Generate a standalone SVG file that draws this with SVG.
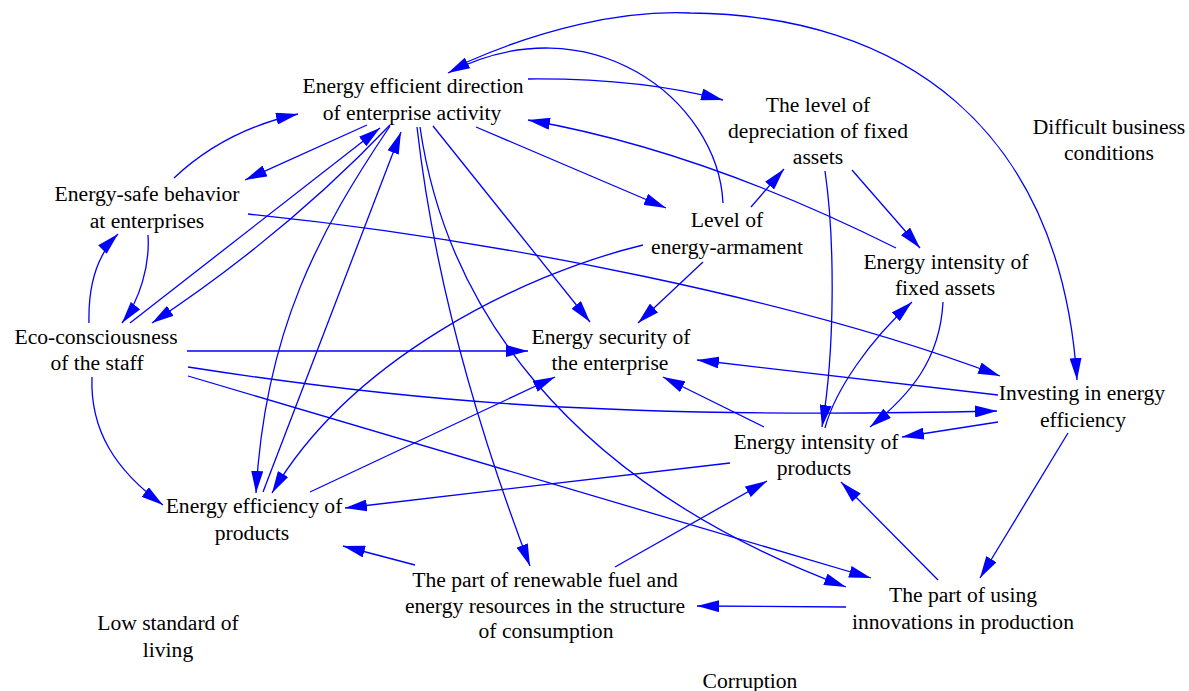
<svg xmlns="http://www.w3.org/2000/svg" width="1189" height="691" viewBox="0 0 1189 691">
<style>
text{font-family:"Liberation Serif","Times New Roman",serif;font-size:21.6px;fill:#000;text-anchor:middle}
.e path{fill:none;stroke:#0000ff;stroke-width:1.3;marker-end:url(#ah)}
</style>
<defs>
<marker id="ah" markerUnits="userSpaceOnUse" markerWidth="22" markerHeight="12" refX="22" refY="6" orient="auto" viewBox="0 0 22 12">
<path d="M0,0 L22,6 L0,12 z" fill="#0000ff"/>
</marker>
</defs>
<rect width="1189" height="691" fill="#fff"/>
<g class="e" id="connectors">
<path d="M528,79 Q640,78 723,100"/>
<path d="M723,203 C718,100 590,0 448,73"/>
<path d="M476,127 L666,208"/>
<path d="M751,207 L784,169"/>
<path d="M896,248 Q700,150 528,120"/>
<path d="M852,170 L920,248"/>
<path d="M825,171 C835,240 835,350 822,427"/>
<path d="M825,428 C835,390 870,340 912,302"/>
<path d="M943,302 C940,360 910,395 870,427"/>
<path d="M467,62 C540,30 620,10 690,13 C900,15 1060,125 1077,380"/>
<path d="M998,395 L697,360"/>
<path d="M188,367 C400,400 600,420 997,411"/>
<path d="M998,422 L902,437"/>
<path d="M1068,433 L980,578"/>
<path d="M938,580 L841,482"/>
<path d="M846,607 L697,606"/>
<path d="M415,565 L343,546"/>
<path d="M615,567 L767,481"/>
<path d="M730,463 L345,508"/>
<path d="M764,427 L663,377"/>
<path d="M310,492 L555,377"/>
<path d="M187,351 L528,351"/>
<path d="M188,376 L871,578"/>
<path d="M420,127 C445,300 560,480 846,587"/>
<path d="M417,127 Q440,330 530,566"/>
<path d="M433,126 L590,322"/>
<path d="M703,262 L638,323"/>
<path d="M643,245 C520,275 350,360 272,493"/>
<path d="M248,214 C500,240 800,300 1000,376"/>
<path d="M174,178 Q225,130 298,114"/>
<path d="M367,125 L245,180"/>
<path d="M130,323 L380,128"/>
<path d="M390,125 Q285,235 152,323"/>
<path d="M148,235 C150,265 140,300 122,323"/>
<path d="M89,323 C88,285 97,255 118,234"/>
<path d="M92,377 C90,430 115,470 163,505"/>
<path d="M390,126 C320,230 265,330 256,493"/>
<path d="M263,492 L401,132"/>
</g>
<g id="n1"><text x="413" y="93">Energy efficient direction</text><text x="412" y="120">of enterprise activity</text></g>
<g id="n2"><text x="818" y="112">The level of</text><text x="818" y="138">depreciation of fixed</text><text x="818" y="164">assets</text></g>
<g id="n3"><text x="1109" y="134">Difficult business</text><text x="1109" y="160">conditions</text></g>
<g id="n4"><text x="147" y="201">Energy-safe behavior</text><text x="147" y="228">at enterprises</text></g>
<g id="n5"><text x="727" y="227">Level of</text><text x="727" y="254">energy-armament</text></g>
<g id="n6"><text x="946" y="269">Energy intensity of</text><text x="945" y="295">fixed assets</text></g>
<g id="n7"><text x="96" y="344">Eco-consciousness</text><text x="97" y="370">of the staff</text></g>
<g id="n8"><text x="611" y="344">Energy security of</text><text x="610" y="370">the enterprise</text></g>
<g id="n9"><text x="1082" y="400">Investing in energy</text><text x="1083" y="427">efficiency</text></g>
<g id="n10"><text x="816" y="449">Energy intensity of</text><text x="814" y="475">products</text></g>
<g id="n11"><text x="254" y="513">Energy efficiency of</text><text x="252" y="540">products</text></g>
<g id="n12"><text x="545" y="587">The part of renewable fuel and</text><text x="545" y="613">energy resources in the structure</text><text x="546" y="638">of consumption</text></g>
<g id="n13"><text x="963" y="602">The part of using</text><text x="963" y="629">innovations in production</text></g>
<g id="n14"><text x="168" y="630">Low standard of</text><text x="168" y="657">living</text></g>
<g id="n15"><text x="750" y="688">Corruption</text></g>
</svg>
